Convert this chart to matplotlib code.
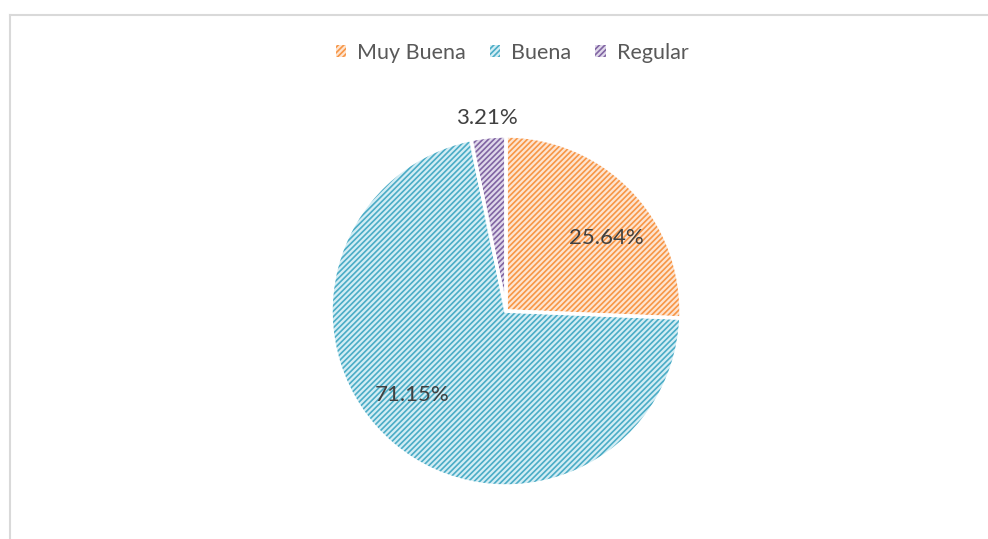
import numpy as np
import matplotlib
matplotlib.use('Agg')
import matplotlib.pyplot as plt
from matplotlib.lines import Line2D
from matplotlib.patches import Patch

# slice data, clockwise from 12 o'clock
categories = ['Muy Buena', 'Buena', 'Regular']
values = [25.64, 71.15, 3.21]
labels = ['25.64%', '71.15%', '3.21%']
line_colors = ['#F79646', '#4BACC6', '#8064A2']
back_colors = ['#FDE4D0', '#D3EDF4', '#DFD8EA']

plt.rcParams['font.family'] = ['Lato', 'DejaVu Sans']
plt.rcParams['hatch.linewidth'] = 1.2

fig = plt.figure(figsize=(9.88, 5.39), dpi=100)
W, H = 988, 539
cx, cy, r = 506, 539 - 311, 175
ax = fig.add_axes([(cx - r) / W, (cy - r) / H, 2 * r / W, 2 * r / H])

# hatched fill first, then white separators on top
wedges, _ = ax.pie(values, colors=back_colors, startangle=90, counterclock=False,
                   radius=1, wedgeprops=dict(linewidth=0))
for w, lc in zip(wedges, line_colors):
    w.set_hatch('//////')
    w.set_edgecolor(lc)
ax.pie(values, colors=['none'] * 3, startangle=90, counterclock=False, radius=1,
       wedgeprops=dict(linewidth=2.5, edgecolor='white'))
ax.set_xlim(-1, 1)
ax.set_ylim(-1, 1)
ax.set_aspect('equal')
ax.axis('off')

# data labels (inside ones sit a bit clockwise of the slice middle, like Excel)
dist = [0.71, 0.72, 1.11]
shift = [-8, -8, 0]
for w, lab, d, s in zip(wedges, labels, dist, shift):
    a = np.deg2rad((w.theta1 + w.theta2) / 2 + s)
    ax.text(d * np.cos(a), d * np.sin(a), lab, ha='center', va='center',
            fontsize=16, color='#404040')

handles = [Patch(facecolor=b, edgecolor=l, hatch='//////', linewidth=0)
           for b, l in zip(back_colors, line_colors)]
fig.legend(handles, categories, loc='center', bbox_to_anchor=(512 / W, 1 - 53 / H),
           ncol=3, frameon=False, fontsize=15.5, handlelength=0.5, handleheight=0.5,
           handletextpad=0.5, columnspacing=1.1, labelcolor='#595959')

# chart border (only top and left visible)
fig.add_artist(Line2D([9.5 / W, 9.5 / W], [0, 1 - 15 / H], color='#D9D9D9', lw=1.5))
fig.add_artist(Line2D([9.5 / W, 1], [1 - 15 / H, 1 - 15 / H], color='#D9D9D9', lw=1.5))

fig.savefig('out.png', dpi=100)
